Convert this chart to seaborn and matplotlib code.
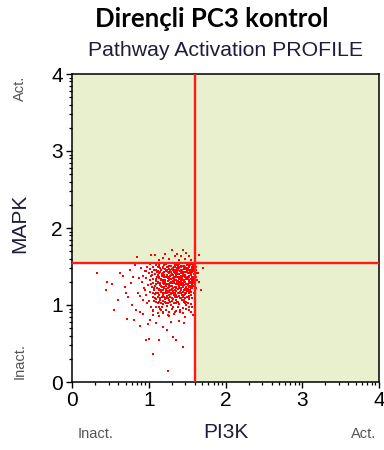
import math
import matplotlib
matplotlib.use("Agg")
import matplotlib.pyplot as plt
from matplotlib.patches import Rectangle
import pandas as pd
import seaborn as sns

# ---------------- data ----------------
title = "Dirençli PC3 kontrol"
subtitle = "Pathway Activation PROFILE"
x_label = "PI3K"
y_label = "MAPK"
tick_values = [0, 1, 2, 3, 4]
pi3k_threshold = 1.6
mapk_threshold = 1.55

core_points = [
    (1.02,1.53),(1.10,1.52),(1.17,1.54),(1.22,1.53),(1.28,1.51),(1.31,1.54),(1.36,1.52),(1.40,1.53),(1.44,1.51),(1.47,1.54),(1.51,1.52),(1.55,1.53),(1.58,1.51),
    (0.98,1.50),(1.06,1.49),(1.13,1.51),(1.19,1.50),(1.25,1.49),(1.29,1.51),(1.33,1.50),(1.38,1.49),(1.42,1.51),(1.46,1.50),(1.49,1.48),(1.53,1.50),(1.57,1.49),(1.60,1.51),
    (1.01,1.47),(1.09,1.46),(1.15,1.48),(1.21,1.47),(1.24,1.45),(1.30,1.47),(1.35,1.46),(1.39,1.48),(1.43,1.46),(1.48,1.47),(1.52,1.45),(1.56,1.47),(1.59,1.46),
    (0.96,1.44),(1.04,1.43),(1.12,1.44),(1.18,1.42),(1.23,1.44),(1.27,1.43),(1.32,1.45),(1.37,1.43),(1.41,1.44),(1.45,1.42),(1.50,1.44),(1.54,1.43),(1.58,1.44),
    (1.00,1.41),(1.08,1.40),(1.14,1.41),(1.20,1.39),(1.26,1.41),(1.30,1.40),(1.34,1.42),(1.38,1.40),(1.42,1.41),(1.47,1.39),(1.51,1.41),(1.55,1.40),(1.61,1.41),
    (1.03,1.38),(1.11,1.37),(1.17,1.38),(1.22,1.36),(1.28,1.38),(1.33,1.37),(1.36,1.39),(1.40,1.37),(1.44,1.38),(1.49,1.36),(1.53,1.38),(1.57,1.37),
    (0.97,1.35),(1.06,1.34),(1.13,1.35),(1.19,1.33),(1.25,1.35),(1.29,1.34),(1.35,1.36),(1.39,1.34),(1.43,1.35),(1.46,1.33),(1.50,1.35),(1.55,1.34),(1.59,1.35),
    (1.02,1.32),(1.10,1.31),(1.16,1.32),(1.21,1.30),(1.27,1.32),(1.31,1.31),(1.34,1.33),(1.38,1.31),(1.42,1.32),(1.47,1.30),(1.52,1.32),(1.56,1.31),
    (1.05,1.29),(1.12,1.28),(1.18,1.29),(1.23,1.27),(1.28,1.29),(1.33,1.28),(1.37,1.30),(1.41,1.28),(1.45,1.29),(1.49,1.27),(1.54,1.29),(1.58,1.28),
    (0.99,1.26),(1.08,1.25),(1.15,1.26),(1.20,1.24),(1.26,1.26),(1.30,1.25),(1.35,1.27),(1.39,1.25),(1.43,1.26),(1.48,1.24),(1.51,1.26),(1.55,1.25),
    (1.04,1.23),(1.11,1.22),(1.17,1.23),(1.22,1.21),(1.27,1.23),(1.32,1.22),(1.36,1.24),(1.40,1.22),(1.44,1.23),(1.47,1.21),(1.53,1.23),(1.57,1.22),
    (1.07,1.20),(1.14,1.19),(1.19,1.20),(1.25,1.18),(1.29,1.20),(1.34,1.19),(1.38,1.21),(1.42,1.19),(1.46,1.20),(1.50,1.18),(1.54,1.20),
    (1.02,1.17),(1.10,1.16),(1.16,1.17),(1.21,1.15),(1.27,1.17),(1.31,1.16),(1.36,1.18),(1.40,1.16),(1.45,1.17),(1.49,1.15),(1.55,1.17),
    (1.08,1.14),(1.13,1.13),(1.19,1.14),(1.24,1.12),(1.29,1.14),(1.33,1.13),(1.38,1.15),(1.43,1.13),(1.47,1.14),(1.52,1.12),
    (1.05,1.11),(1.12,1.10),(1.17,1.11),(1.22,1.09),(1.28,1.11),(1.34,1.10),(1.39,1.12),(1.44,1.10),(1.50,1.11),(1.56,1.09),
    (1.10,1.08),(1.15,1.07),(1.21,1.08),(1.26,1.06),(1.31,1.08),(1.36,1.07),(1.41,1.09),(1.46,1.07),(1.53,1.08),
    (1.07,1.05),(1.14,1.04),(1.19,1.05),(1.25,1.03),(1.30,1.05),(1.37,1.04),(1.43,1.06),(1.49,1.04),
    (1.12,1.02),(1.18,1.01),(1.23,1.02),(1.29,1.00),(1.35,1.02),(1.40,1.01),(1.47,1.03),(1.55,1.01),
    (1.09,0.98),(1.17,0.97),(1.24,0.99),(1.32,0.97),(1.38,0.98),(1.45,0.96),(1.52,0.98),
    (1.15,0.95),(1.22,0.94),(1.30,0.95),(1.41,0.93),(1.48,0.95),
]

interleaved_points = [
    (1.14,1.515),(1.20,1.52),(1.26,1.51),(1.34,1.515),(1.38,1.52),(1.455,1.51),(1.495,1.515),(1.535,1.52),(1.575,1.515),
    (1.07,1.455),(1.165,1.46),(1.275,1.45),(1.325,1.455),(1.415,1.46),(1.515,1.455),(1.565,1.45),
    (1.04,1.395),(1.115,1.39),(1.175,1.40),(1.235,1.395),(1.285,1.39),(1.395,1.40),(1.445,1.395),(1.545,1.39),(1.585,1.40),
    (1.09,1.335),(1.155,1.34),(1.215,1.33),(1.275,1.335),(1.335,1.34),(1.435,1.33),(1.485,1.335),(1.575,1.34),
    (1.03,1.275),(1.095,1.27),(1.145,1.28),(1.205,1.275),(1.255,1.27),(1.305,1.28),(1.355,1.275),(1.395,1.27),(1.435,1.28),(1.505,1.275),(1.565,1.27),
    (1.065,1.215),(1.135,1.21),(1.205,1.22),(1.255,1.215),(1.305,1.21),(1.355,1.22),(1.425,1.215),(1.515,1.21),(1.555,1.22),
    (1.06,1.155),(1.125,1.15),(1.185,1.16),(1.235,1.155),(1.285,1.15),(1.345,1.16),(1.385,1.155),(1.425,1.15),(1.475,1.16),(1.525,1.155),
    (1.085,1.095),(1.145,1.09),(1.195,1.10),(1.245,1.095),(1.305,1.09),(1.365,1.10),(1.415,1.095),(1.475,1.09),(1.525,1.10),
    (1.10,1.035),(1.16,1.03),(1.215,1.04),(1.275,1.035),(1.325,1.03),(1.385,1.04),(1.455,1.035),(1.515,1.03),
]

fill_points = [
    (1.125,1.495),(1.185,1.485),(1.235,1.50),(1.345,1.49),(1.395,1.50),(1.475,1.49),(1.585,1.485),
    (1.105,1.425),(1.145,1.43),(1.255,1.425),(1.295,1.43),(1.355,1.435),(1.465,1.43),(1.565,1.425),
    (1.135,1.365),(1.195,1.36),(1.265,1.365),(1.335,1.355),(1.385,1.37),(1.475,1.365),(1.525,1.36),(1.575,1.36),
    (1.125,1.305),(1.185,1.31),(1.295,1.305),(1.395,1.305),(1.525,1.305),(1.59,1.31),
    (1.165,1.245),(1.225,1.25),(1.285,1.245),(1.415,1.255),(1.535,1.245),(1.575,1.25),
    (1.155,1.19),(1.225,1.185),(1.275,1.19),(1.315,1.185),(1.485,1.19),(1.525,1.185),
    (1.185,1.125),(1.265,1.13),(1.355,1.125),(1.455,1.125),(1.545,1.13),
]

dense_center_points = [
    (1.315,1.485),(1.365,1.475),(1.415,1.49),(1.455,1.465),(1.505,1.48),(1.545,1.455),
    (1.335,1.425),(1.385,1.455),(1.435,1.425),(1.485,1.435),(1.525,1.415),(1.32,1.385),
    (1.37,1.405),(1.42,1.375),(1.465,1.395),(1.515,1.37),(1.31,1.355),(1.36,1.325),
    (1.41,1.345),(1.455,1.315),(1.505,1.335),(1.545,1.305),(1.325,1.295),(1.375,1.27),
    (1.425,1.295),(1.465,1.255),(1.52,1.28),(1.34,1.235),(1.39,1.215),(1.44,1.245),
    (1.49,1.225),(1.355,1.185),(1.405,1.175),(1.455,1.19),(1.235,1.375),(1.245,1.31),
    (1.26,1.245),(1.205,1.425),(1.27,1.465),
]

halo_points = [
    (0.90,1.48),(0.93,1.38),(0.91,1.30),(0.94,1.22),(0.89,1.12),(1.00,1.05),(0.97,1.13),
    (1.03,0.97),(1.06,0.92),(1.12,0.90),(1.19,0.89),(1.26,0.91),(1.35,0.92),(1.44,0.90),
    (1.52,0.93),(1.57,0.97),(1.60,1.05),(1.59,1.15),(1.62,1.22),(1.63,1.33),(1.64,1.42),
    (1.62,1.50),(1.25,0.87),(1.33,0.88),(1.16,0.93),(0.95,1.44),(0.87,1.35),(1.58,0.87),
    (1.03,1.65),(1.08,1.65),(1.14,1.58),(1.21,1.66),(1.34,1.64),(1.37,1.66),(1.42,1.63),
    (1.49,1.68),(1.52,1.64),(1.66,1.65),(1.27,1.60),(1.30,1.72),(1.45,1.71),(1.39,1.59),
    (1.55,1.59),(1.18,1.61),(1.47,1.60),(0.85,1.62),
]

outlier_points = [
    (0.33,1.42),(0.45,1.30),(0.44,1.19),(0.55,0.94),(0.52,1.27),(0.62,1.41),(0.67,1.38),
    (0.60,1.06),(0.72,0.82),(0.81,0.81),(0.88,0.73),(0.84,0.94),(0.97,0.55),(1.00,0.56),
    (1.05,0.36),(1.13,0.55),(1.25,0.14),(1.45,0.46),(1.31,0.59),(1.36,0.55),(1.19,0.71),
    (1.24,0.68),(1.29,0.78),(1.39,0.79),(1.46,0.76),(1.47,0.84),(1.10,0.77),(1.01,0.81),
    (0.99,0.75),(1.13,0.86),(0.92,0.88),(0.88,0.91),(0.78,1.00),(0.73,1.11),(0.69,1.24),
    (0.71,1.16),(0.77,1.29),(0.79,1.37),(0.75,1.45),(0.82,1.52),(0.86,1.15),(0.92,1.07),
    (0.95,1.20),(0.98,1.02),(1.05,0.94),(1.06,0.87),(1.14,0.98),(1.18,0.91),(1.27,0.86),
    (1.34,0.91),(1.41,0.91),(1.49,1.00),(1.55,0.91),(1.66,1.30),(1.68,1.19),(1.71,1.48),
    (1.61,1.37),(1.62,1.46),
]

all_points = (core_points + interleaved_points + fill_points + dense_center_points
              + halo_points + outlier_points)
df = pd.DataFrame(all_points, columns=[x_label, y_label])

# ---------------- style ----------------
sns.set_style("white")
plt.rcParams["font.family"] = ["Liberation Sans", "DejaVu Sans"]

W, H = 384, 450
fig = plt.figure(figsize=(W / 100, H / 100), dpi=100)
fig.patch.set_facecolor("white")

x0, x1, y0, y1 = 72, 379, 74, 382
ax = fig.add_axes([x0 / W, 1 - y1 / H, (x1 - x0) / W, (y1 - y0) / H])

green = "#E9F0CD"
ax.set_facecolor(green)
ax.add_patch(Rectangle((0, 0), pi3k_threshold, mapk_threshold,
                       facecolor="white", edgecolor="none", zorder=0.5))

sns.scatterplot(data=df, x=x_label, y=y_label, ax=ax, color="#FF0000",
                marker="s", s=4.2, linewidth=0, zorder=2, legend=False)

ax.axvline(pi3k_threshold, color="#FF1A1A", lw=1.7, zorder=3)
ax.axhline(mapk_threshold, color="#FF1A1A", lw=1.7, zorder=3)

ax.set_xlim(0, 4)
ax.set_ylim(0, 4)
ax.set_xticks(tick_values)
ax.set_yticks(tick_values)
minor = [d + math.log10(k) for d in range(4) for k in range(2, 10)]
ax.set_xticks(minor, minor=True)
ax.set_yticks(minor, minor=True)
ax.tick_params(which="major", direction="out", length=4.5, width=1.0,
               labelsize=15, colors="black", pad=2)
ax.tick_params(which="minor", direction="out", length=2.5, width=0.9, colors="black")
ax.tick_params(axis="x", which="both", bottom=True)
ax.tick_params(axis="y", which="both", left=True)
ax.set_xlabel("")
ax.set_ylabel("")
for sp in ax.spines.values():
    sp.set_visible(True)
    sp.set_color("black")
    sp.set_linewidth(1.1)

def fx(px):
    return px / W

def fy(py):
    return 1 - py / H

fig.text(fx(212), fy(19), title, ha="center", va="center",
         fontsize=18.5, fontweight="bold", family=["Lato", "DejaVu Sans"], color="black")
fig.text(fx(225), fy(51), subtitle, ha="center", va="center",
         fontsize=15.3, color="#1E1E3C")
fig.text(fx(226), fy(433), x_label, ha="center", va="center", fontsize=15, color="#1E1E3C")
fig.text(fx(20), fy(223), y_label, ha="center", va="center", fontsize=15,
         rotation=90, color="#1E1E3C")
fig.text(fx(95.5), fy(434), "Inact.", ha="center", va="center", fontsize=10.5, color="#555555")
fig.text(fx(364), fy(434), "Act.", ha="center", va="center", fontsize=10.5, color="#555555")
fig.text(fx(20), fy(88), "Act.", ha="center", va="center", fontsize=10.5,
         rotation=90, color="#555555")
fig.text(fx(20), fy(361), "Inact.", ha="center", va="center", fontsize=10.5,
         rotation=90, color="#555555")

fig.savefig("out.png", dpi=100)
